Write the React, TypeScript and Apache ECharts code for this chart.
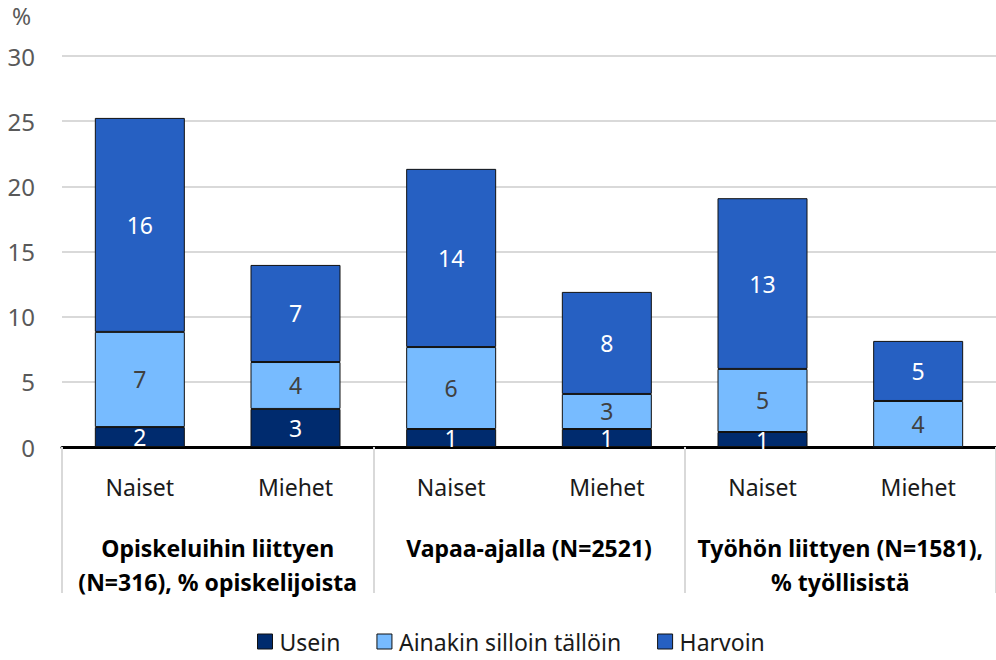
import React, { useEffect, useRef } from "react";
import * as echarts from "echarts";

const categories = ["Naiset", "Miehet", "Naiset", "Miehet", "Naiset", "Miehet"];
const groups = [
  "Opiskeluihin liittyen\n(N=316), % opiskelijoista",
  "Vapaa-ajalla (N=2521)",
  "Työhön liittyen (N=1581),\n% työllisistä",
];
const usein = [1.53, 2.92, 1.38, 1.38, 1.15, 0];
const ainakin = [7.3, 3.6, 6.29, 2.69, 4.84, 3.53];
const harvoin = [16.42, 7.45, 13.67, 7.83, 13.1, 4.61];
const seriesNames = ["Usein", "Ainakin silloin tällöin", "Harvoin"];
const yTicks = { min: 0, max: 30, interval: 5 };

const FONT = "'Noto Sans', sans-serif";

export default function App() {
  const ref = useRef<HTMLDivElement>(null);
  useEffect(() => {
    if (!ref.current) return;
    const chart = echarts.init(ref.current, null, { renderer: "svg" });
    const mk = (name: string, data: number[], color: string, labelColor: string) => ({
      name,
      type: "bar",
      stack: "total",
      data,
      barWidth: 90,
      itemStyle: { color, borderColor: "#111", borderWidth: 1 },
      label: {
        show: true,
        position: "inside",
        color: labelColor,
        fontSize: 23,
        fontFamily: FONT,
        formatter: (p: any) => (p.value ? String(Math.round(p.value)) : ""),
      },
    });
    chart.setOption({
      animation: false,
      textStyle: { fontFamily: FONT },
      grid: { left: 62, right: 0, top: 56, bottom: 213, containLabel: false },
      legend: {
        bottom: 2,
        left: 252,
        itemWidth: 15,
        itemHeight: 15,
        itemGap: 36,
        icon: "rect",
        textStyle: { fontSize: 23, color: "#1a1a1a", fontFamily: FONT, padding: [0, 0, 0, 2] },
        itemStyle: { borderColor: "#111", borderWidth: 1 },
        data: seriesNames,
      },
      graphic: [
        {
          type: "text",
          left: 12,
          top: 4,
          style: { text: "%", fontSize: 23, fill: "#595959", fontFamily: FONT },
        },
      ],
      xAxis: [
        {
          type: "category",
          data: categories,
          position: "bottom",
          axisLine: { show: true, lineStyle: { color: "#000", width: 3 } },
          axisTick: { show: false },
          axisLabel: { fontSize: 23, color: "#1a1a1a", margin: 28, fontFamily: FONT, interval: 0 },
        },
        {
          type: "category",
          data: groups,
          position: "bottom",
          axisLine: { show: false },
          axisTick: { show: true, interval: 0, length: 146, lineStyle: { color: "#d9d9d9", width: 2 } },
          axisLabel: {
            interval: 0,
            fontSize: 23,
            fontWeight: "bold",
            color: "#000",
            margin: 84,
            lineHeight: 34,
            fontFamily: FONT,
          },
        },
      ],
      yAxis: {
        type: "value",
        min: yTicks.min,
        max: yTicks.max,
        interval: yTicks.interval,
        axisLine: { show: false },
        axisTick: { show: false },
        axisLabel: { fontSize: 24, color: "#595959", margin: 27, fontFamily: FONT },
        splitLine: { lineStyle: { color: "#d9d9d9", width: 2 } },
      },
      series: [
        mk(seriesNames[0], usein, "#002B6E", "#ffffff"),
        mk(seriesNames[1], ainakin, "#77BBFF", "#404040"),
        mk(seriesNames[2], harvoin, "#2660C2", "#ffffff"),
      ],
    });
    return () => chart.dispose();
  }, []);
  return (
    <div
      ref={ref}
      style={{ position: "fixed", left: 0, top: 0, width: 996, height: 660, background: "#fff" }}
    />
  );
}
